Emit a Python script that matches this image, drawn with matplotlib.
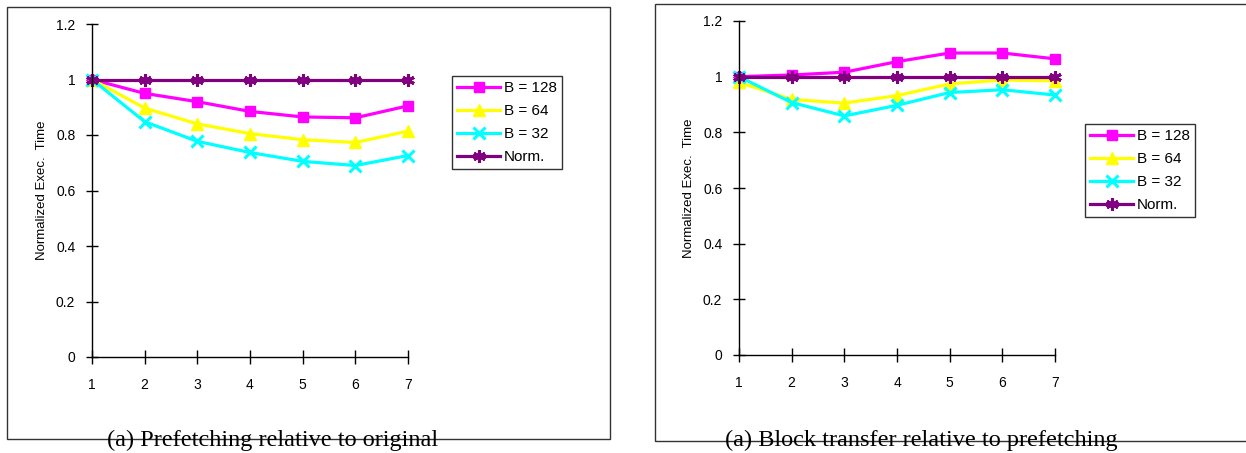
import matplotlib
matplotlib.use("Agg")
import matplotlib.pyplot as plt
from matplotlib.patches import Rectangle

# ---- DATA ----
x_vals = [1, 2, 3, 4, 5, 6, 7]
series_labels = ["B = 128", "B = 64", "B = 32", "Norm."]

# (a) Prefetching relative to original
pref_b128 = [1.00, 0.95, 0.92, 0.885, 0.865, 0.862, 0.905]
pref_b64 = [1.00, 0.897, 0.84, 0.805, 0.783, 0.773, 0.814]
pref_b32 = [1.00, 0.848, 0.777, 0.737, 0.705, 0.69, 0.726]
pref_norm = [1, 1, 1, 1, 1, 1, 1]

# (a) Block transfer relative to prefetching
blk_b128 = [1.00, 1.006, 1.016, 1.054, 1.085, 1.085, 1.064]
blk_b64 = [0.98, 0.918, 0.905, 0.932, 0.974, 0.988, 0.985]
blk_b32 = [1.00, 0.907, 0.859, 0.897, 0.943, 0.953, 0.934]
blk_norm = [1, 1, 1, 1, 1, 1, 1]

captions = ["(a) Prefetching relative to original",
            "(a) Block transfer relative to prefetching"]
y_ticks = [0, 0.2, 0.4, 0.6, 0.8, 1, 1.2]
y_tick_labels = ["0", "0.2", "0.4", "0.6", "0.8", "1", "1.2"]
# ---------------

COLORS = ["#ff00ff", "#ffff00", "#00ffff", "#800080"]
MARKERS = ["s", "^", "x", (6, 2, 0)]
MSIZES = [7, 8, 8, 9]

plt.rcParams["font.family"] = ["Liberation Sans", "DejaVu Sans"]

W, H = 1246, 453
fig = plt.figure(figsize=(W / 100, H / 100), dpi=100)


def px_rect(x0, y0, x1, y1):
    # pixel box (top-left origin) -> figure fraction [left, bottom, w, h]
    return [x0 / W, 1 - y1 / H, (x1 - x0) / W, (y1 - y0) / H]


def draw_panel(axes_box, frame_box, legend_xy, caption_xy, caption, data):
    # outer frame around the panel
    fx0, fy0, fx1, fy1 = frame_box
    fig.patches.append(Rectangle((fx0 / W, 1 - fy1 / H), (fx1 - fx0) / W, (fy1 - fy0) / H,
                                 transform=fig.transFigure, fill=False,
                                 edgecolor="#333333", linewidth=1.0, zorder=0))

    ax = fig.add_axes(px_rect(*axes_box))
    for vals, lab, c, m, ms in zip(data, series_labels, COLORS, MARKERS, MSIZES):
        ax.plot(x_vals, vals, color=c, marker=m, markersize=ms, linewidth=2.3,
                markeredgewidth=2.2 if m in ("x", (6, 2, 0)) else 1.0,
                markeredgecolor=c, label=lab, clip_on=False)

    ax.set_xlim(1, 7)
    ax.set_ylim(0, 1.2)
    ax.set_xticks(x_vals)
    ax.set_yticks(y_ticks)
    ax.set_yticklabels(y_tick_labels)
    ax.spines["top"].set_visible(False)
    ax.spines["right"].set_visible(False)
    ax.spines["left"].set_linewidth(1.0)
    ax.spines["bottom"].set_linewidth(1.0)
    ax.tick_params(axis="x", direction="inout", length=10, width=1, pad=10, labelsize=10)
    ax.tick_params(axis="y", direction="inout", length=8, width=1, pad=8, labelsize=10)
    ax.set_ylabel("Normalized Exec.  Time", fontsize=9.5)
    ax.yaxis.set_label_coords(-44 / (axes_box[2] - axes_box[0]), 0.5)

    handles, labels = ax.get_legend_handles_labels()
    leg = fig.legend(handles, labels, loc="upper left",
                     bbox_to_anchor=(legend_xy[0] / W, 1 - legend_xy[1] / H),
                     bbox_transform=fig.transFigure, fontsize=11,
                     frameon=True, fancybox=False, edgecolor="black",
                     handlelength=2.8, handletextpad=0.25, labelspacing=0.58,
                     borderpad=0.35, borderaxespad=0)
    leg.get_frame().set_linewidth(1.0)

    fig.text(caption_xy[0] / W, 1 - caption_xy[1] / H, caption,
             family=["Liberation Serif", "DejaVu Serif"], fontsize=17.5,
             ha="center", va="baseline")


draw_panel((92, 24, 408, 357), (7, 7, 610, 439), (452, 76), (273, 446),
           captions[0], [pref_b128, pref_b64, pref_b32, pref_norm])
draw_panel((739, 21, 1055, 355), (655, 4, 1252, 441), (1085, 124), (921, 446),
           captions[1], [blk_b128, blk_b64, blk_b32, blk_norm])

fig.savefig("out.png", dpi=100, facecolor="white")
